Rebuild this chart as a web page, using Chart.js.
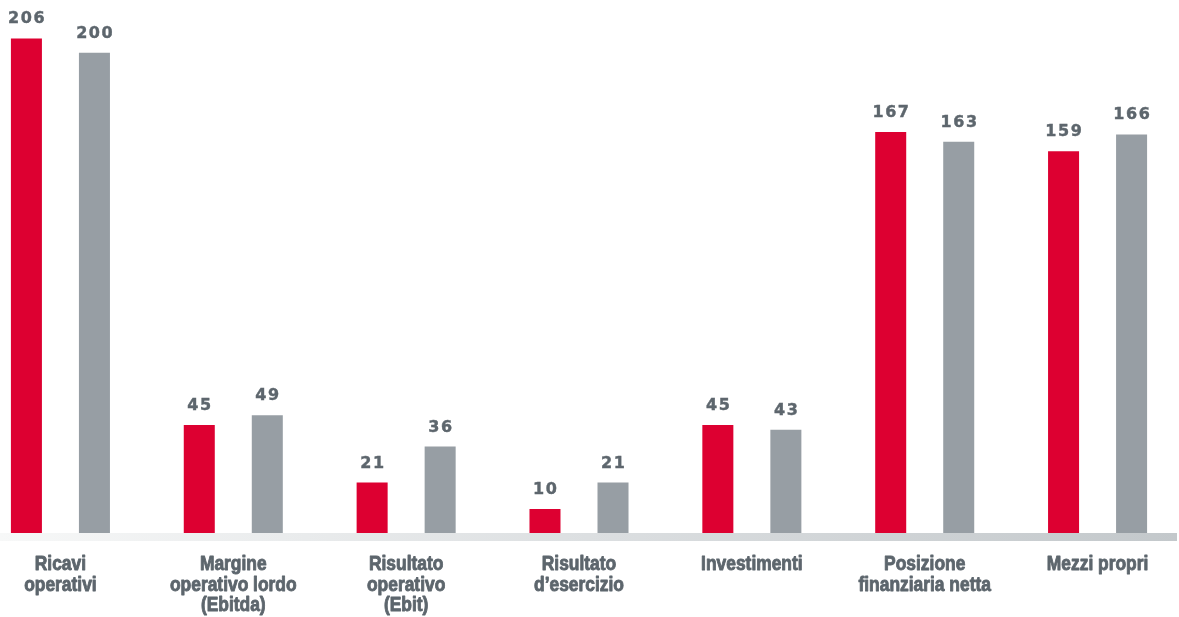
<!DOCTYPE html>
<html>
<head>
<meta charset="utf-8">
<script src="https://cdn.jsdelivr.net/npm/chart.js@4"></script>
<style>
  html, body { margin: 0; padding: 0; background: #fff; overflow: hidden; }
  #page { width: 1179px; height: 617px; position: relative; overflow: hidden; }
  #wrap { position: absolute; left: -26px; top: 0; width: 1210px; height: 617px; }
</style>
</head>
<body>
<div id="page"><div id="wrap"><canvas id="myChart"></canvas></div></div>
<script>
const categories = [
  ["Ricavi", "operativi"],
  ["Margine", "operativo lordo", "(Ebitda)"],
  ["Risultato", "operativo", "(Ebit)"],
  ["Risultato", "d\u2019esercizio"],
  ["Investimenti"],
  ["Posizione", "finanziaria netta"],
  ["Mezzi propri"]
];
const redValues = [206, 45, 21, 10, 45, 167, 159];
const grayValues = [200, 49, 36, 21, 43, 163, 166];

const redColor = "#dd0031";
const grayColor = "#979ea4";
const textColor = "#5d666d";
const shiftX = 26; // canvas starts 26px left of the page

// light band under the bars, fading from left to right
const axisBand = {
  id: "axisBand",
  beforeDatasetsDraw(chart) {
    const ctx = chart.ctx;
    const y = chart.chartArea.bottom;
    const grad = ctx.createLinearGradient(shiftX, 0, shiftX + 1177, 0);
    grad.addColorStop(0, "#f7f8f8");
    grad.addColorStop(0.5, "#dcdfe1");
    grad.addColorStop(1, "#c3c8cb");
    ctx.save();
    ctx.fillStyle = grad;
    ctx.fillRect(shiftX, y, 1177, 8);
    ctx.restore();
  }
};

// numbers above each bar
const valueLabels = {
  id: "valueLabels",
  afterDatasetsDraw(chart) {
    const ctx = chart.ctx;
    ctx.save();
    ctx.font = "bold 16px 'DejaVu Sans'";
    ctx.letterSpacing = "1.6px";
    ctx.fillStyle = textColor;
    ctx.strokeStyle = textColor;
    ctx.lineWidth = 0.4;
    ctx.textAlign = "center";
    ctx.textBaseline = "alphabetic";
    chart.data.datasets.forEach((ds, i) => {
      chart.getDatasetMeta(i).data.forEach((bar, j) => {
        const txt = String(ds.data[j]);
        ctx.fillText(txt, bar.x + 0.8, bar.y - 15);
        ctx.strokeText(txt, bar.x + 0.8, bar.y - 15);
      });
    });
    ctx.restore();
  }
};

// category names, narrowed bold sans
const categoryLabels = {
  id: "categoryLabels",
  afterDraw(chart) {
    const ctx = chart.ctx;
    const xScale = chart.scales.x;
    const base = chart.chartArea.bottom;
    ctx.save();
    ctx.font = "bold 20px 'Liberation Sans', Arial, sans-serif";
    ctx.fillStyle = textColor;
    ctx.strokeStyle = textColor;
    ctx.lineWidth = 0.9;
    ctx.lineJoin = "round";
    ctx.textAlign = "center";
    ctx.textBaseline = "alphabetic";
    chart.data.labels.forEach((lines, i) => {
      const x = xScale.getPixelForTick(i);
      lines.forEach((line, k) => {
        ctx.save();
        ctx.translate(x, base + 37 + k * 20.5);
        ctx.scale(0.87, 1);
        ctx.fillText(line, 0, 0);
        ctx.strokeText(line, 0, 0);
        ctx.restore();
      });
    });
    ctx.restore();
  }
};

const ctx = document.getElementById("myChart").getContext("2d");
const myChart = new Chart(ctx, {
  type: "bar",
  data: {
    labels: categories,
    datasets: [
      {
        label: "rosso",
        data: redValues,
        backgroundColor: redColor,
        borderWidth: 0,
        barPercentage: 0.456,
        categoryPercentage: 0.787
      },
      {
        label: "grigio",
        data: grayValues,
        backgroundColor: grayColor,
        borderWidth: 0,
        barPercentage: 0.456,
        categoryPercentage: 0.787
      }
    ]
  },
  options: {
    responsive: true,
    maintainAspectRatio: false,
    animation: false,
    layout: { padding: 0 },
    plugins: {
      legend: { display: false },
      tooltip: { enabled: false }
    },
    scales: {
      y: {
        display: false,
        min: 0,
        max: 222
      },
      x: {
        grid: { display: false, drawTicks: false },
        border: { display: false },
        ticks: { display: false },
        afterFit(scale) {
          scale.height = 84;
        }
      }
    }
  },
  plugins: [axisBand, valueLabels, categoryLabels]
});
</script>
</body>
</html>
